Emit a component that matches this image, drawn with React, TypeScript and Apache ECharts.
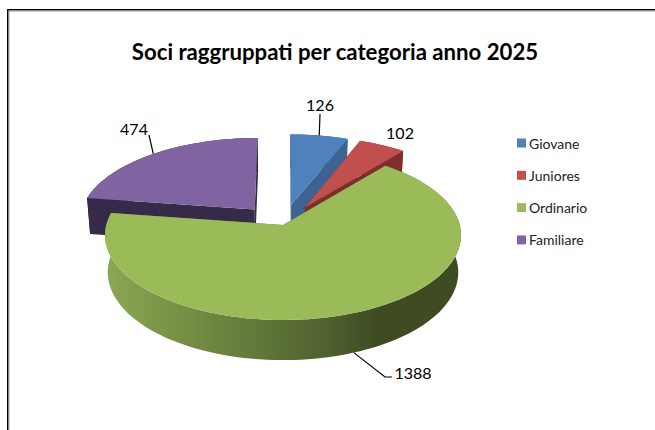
import React, { useEffect, useRef } from "react";
import * as echarts from "echarts";

const categories = ["Giovane", "Juniores", "Ordinario", "Familiare"];
const values = [126, 102, 1388, 474];
const titleText = "Soci raggruppati per categoria anno 2025";

const topColors = ["#4f81bd", "#c0504d", "#9bbb59", "#8064a2"];
const wallColors = ["#3c6391", "#7c2f2e", "#5f7636", "#352a47"];
const explode = [0.2505, 0.2505, 0, 0.2505];
const drawOrder = [1, 3, 4, 2];
// label centre, then optional leader elbow points; anchorBottom picks the disc the leader starts on
const labelCentres = [[320, 104], [400, 132], [413, 372], [134, 128]];
const leaderEnds = [[[320, 114]], [], [[385, 377], [392, 377]], [[149, 135]]];
const anchorBottom = [false, false, true, false];

const CX = 283;
const K = 0.12;
const TOP = { cy: 225, rx: 176.7, ry: 83.6 };
const BOTTOM = { cy: 261.8, rx: 174, ry: 86.5 };
const FONT = "Lato, Carlito, Calibri, sans-serif";

const total = values.reduce((a, b) => a + b, 0);
const starts: number[] = [];
values.reduce((acc, v, i) => {
  starts[i] = acc;
  return acc + v;
}, 0);

type Plane = { cy: number; rx: number; ry: number };

function project(plane: Plane, X: number, Y: number): number[] {
  const w = 1 + K * Y;
  return [CX + (plane.rx * X) / w, plane.cy - (plane.ry * Y) / w];
}

function renderSlice(params: any, api: any) {
  const i = params.seriesIndex;
  const value = api.value(0);
  const a0 = (starts[i] / total) * Math.PI * 2;
  const a1 = a0 + (value / total) * Math.PI * 2;
  const mid = (a0 + a1) / 2;
  const ox = explode[i] * Math.sin(mid);
  const oy = explode[i] * Math.cos(mid);

  const rim = (plane: Plane, a: number) =>
    project(plane, ox + Math.sin(a), oy + Math.cos(a));
  const steps = Math.max(4, Math.round(((a1 - a0) * 180) / Math.PI / 2));
  const arc = (plane: Plane) => {
    const pts: number[][] = [];
    for (let s = 0; s <= steps; s++) pts.push(rim(plane, a0 + ((a1 - a0) * s) / steps));
    return pts;
  };
  const apexTop = project(TOP, ox, oy);
  const apexBottom = project(BOTTOM, ox, oy);
  const topArc = arc(TOP);
  const botArc = arc(BOTTOM);

  const wallFill: any =
    i === 2
      ? new echarts.graphic.LinearGradient(0, 0, 1, 0, [
          { offset: 0, color: "#8ba853" },
          { offset: 0.3, color: "#6f8640" },
          { offset: 0.62, color: "#4f6230" },
          { offset: 0.76, color: "#3f4c22" },
          { offset: 1, color: "#3f4c22" },
        ])
      : wallColors[i];

  const children: any[] = [
    {
      type: "polygon",
      shape: { points: [apexTop, topArc[0], botArc[0], apexBottom] },
      style: { fill: wallColors[i] },
    },
    {
      type: "polygon",
      shape: { points: [apexTop, topArc[steps], botArc[steps], apexBottom] },
      style: { fill: wallColors[i] },
    },
    {
      type: "polygon",
      shape: { points: [...topArc, ...botArc.slice().reverse()] },
      style: { fill: wallFill },
    },
    {
      type: "polygon",
      shape: { points: [apexTop, ...topArc] },
      style: { fill: topColors[i] },
    },
  ];

  if (leaderEnds[i].length) {
    const anchor = rim(anchorBottom[i] ? BOTTOM : TOP, mid);
    children.push({
      type: "polyline",
      shape: { points: [anchor, ...leaderEnds[i]] },
      style: { stroke: "#000", lineWidth: 1.2, fill: "none" },
    });
  }
  children.push({
    type: "text",
    style: {
      text: String(value),
      x: labelCentres[i][0],
      y: labelCentres[i][1],
      textAlign: "center",
      verticalAlign: "middle",
      fontFamily: FONT,
      fontSize: 16,
      fill: "#000",
    },
  });
  return { type: "group", children };
}

export default function App() {
  const ref = useRef<HTMLDivElement>(null);
  useEffect(() => {
    const chart = echarts.init(ref.current!, undefined, { renderer: "svg" });
    chart.setOption({
      animation: false,
      backgroundColor: "#fff",
      title: {
        text: titleText,
        left: 330,
        top: 35,
        textAlign: "center",
        textStyle: { fontFamily: FONT, fontSize: 22.2, fontWeight: "bold", color: "#000" },
      },
      legend: {
        orient: "vertical",
        left: 512,
        top: 131,
        itemWidth: 9,
        itemHeight: 9,
        itemGap: 18.3,
        icon: "rect",
        data: categories,
        selectedMode: false,
        textStyle: { fontFamily: FONT, fontSize: 14, color: "#222", padding: [0, 0, 0, -2] },
      },
      graphic: [
        { type: "rect", shape: { x: 7, y: 9, width: 648, height: 1.5 }, style: { fill: "#000" }, silent: true },
        { type: "rect", shape: { x: 7, y: 10.5, width: 648, height: 1 }, style: { fill: "#999" }, silent: true },
        { type: "rect", shape: { x: 7, y: 9, width: 1.5, height: 421 }, style: { fill: "#000" }, silent: true },
        { type: "rect", shape: { x: 8.5, y: 10.5, width: 0.8, height: 420 }, style: { fill: "#888" }, silent: true },
      ],
      series: categories.map((name, i) => ({
        type: "custom",
        name,
        coordinateSystem: "none",
        z: drawOrder[i],
        silent: true,
        itemStyle: { color: topColors[i] },
        data: [[values[i]]],
        encode: { value: 0 },
        renderItem: renderSlice,
      })),
    });
    return () => chart.dispose();
  }, []);
  return (
    <div
      ref={ref}
      style={{ position: "fixed", left: 0, top: 0, width: 655, height: 430 }}
    />
  );
}
